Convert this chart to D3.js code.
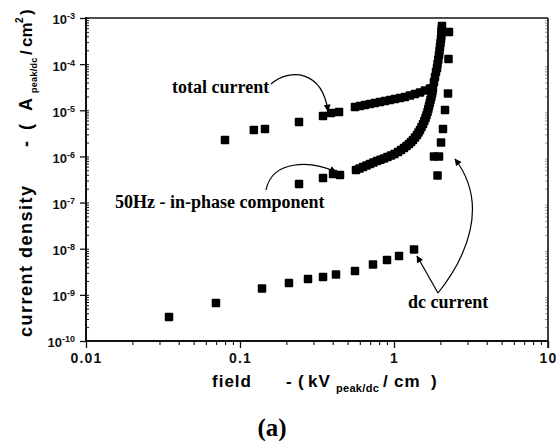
<!DOCTYPE html>
<html>
<head>
<meta charset="utf-8">
<script src="https://cdn.jsdelivr.net/npm/d3@7"></script>
<style>
  body { margin: 0; background: #fff; }
  svg { display: block; }
</style>
</head>
<body>
<svg id="chart" width="556" height="441"></svg>
<script>
// Field in kV(peak/dc)/cm, current density in A(peak/dc)/cm²

// total current
const totalField = [0.0799, 0.123, 0.1453, 0.2416, 0.346, 0.390, 0.4395,
  0.558, 0.6015, 0.648, 0.6985, 0.7527, 0.811, 0.874, 0.942, 1.015, 1.094,
  1.179, 1.27, 1.369, 1.475, 1.59, 1.713];
const totalDensity = [2.27e-6, 3.74e-6, 3.93e-6, 5.57e-6, 7.52e-6, 8.73e-6, 9.18e-6,
  1.18e-5, 1.24e-5, 1.30e-5, 1.37e-5, 1.44e-5, 1.51e-5, 1.59e-5, 1.67e-5, 1.75e-5, 1.85e-5,
  1.94e-5, 2.09e-5, 2.25e-5, 2.43e-5, 2.69e-5, 2.96e-5];

// 50 Hz in-phase component
const inPhaseField = [0.2416, 0.346, 0.402, 0.446,
  0.5665, 0.597, 0.629, 0.663, 0.6985, 0.736, 0.7755, 0.817, 0.861, 0.907,
  0.956, 1.007, 1.062, 1.11, 1.161, 1.206, 1.251, 1.29, 1.328, 1.369,
  1.410, 1.443, 1.475, 1.509, 1.543, 1.573, 1.602, 1.626, 1.650, 1.670,
  1.688, 1.708, 1.726, 1.747, 1.765, 1.778, 1.791, 1.818, 1.846, 1.874,
  1.902, 1.917, 1.940, 1.960, 1.975, 1.989, 2.004, 2.020, 2.028, 2.034,
  2.044, 2.049];
const inPhaseDensity = [2.52e-7, 3.40e-7, 4.16e-7, 3.95e-7,
  5.08e-7, 5.47e-7, 5.90e-7, 6.36e-7, 6.86e-7, 7.38e-7, 7.96e-7, 8.49e-7, 9.02e-7, 9.71e-7,
  1.047e-6, 1.13e-6, 1.247e-6, 1.38e-6, 1.52e-6, 1.68e-6, 1.86e-6, 2.05e-6, 2.27e-6, 2.57e-6,
  2.91e-6, 3.30e-6, 3.74e-6, 4.35e-6, 5.05e-6, 5.86e-6, 6.81e-6, 7.91e-6, 9.18e-6, 1.067e-5,
  1.24e-5, 1.44e-5, 1.67e-5, 1.94e-5, 2.25e-5, 2.62e-5, 3.04e-5, 4.10e-5, 5.26e-5, 6.76e-5,
  8.25e-5, 1.007e-4, 1.26e-4, 1.58e-4, 1.93e-4, 2.35e-4, 2.87e-4, 3.51e-4, 4.18e-4, 4.98e-4,
  5.78e-4, 6.71e-4];

// dc current
const dcField = [0.0346, 0.0698, 0.139, 0.208, 0.2764, 0.346, 0.42, 0.558,
  0.7305, 0.9006, 1.078, 1.349,
  1.818, 1.917, 1.96, 2.02, 2.08, 2.144, 2.242, 2.259, 2.276];
const dcDensity = [3.31e-10, 6.67e-10, 1.37e-9, 1.81e-9, 2.21e-9, 2.44e-9, 2.76e-9, 3.29e-9,
  4.55e-9, 5.69e-9, 6.95e-9, 9.62e-9,
  9.96e-7, 3.86e-7, 9.96e-7, 2.00e-6, 3.93e-6, 1.01e-5, 2.31e-5, 1.29e-4, 4.98e-4];

// axis ticks
const xMajorTicks = [0.01, 0.1, 1, 10];
const xTickLabels = ["0.01", "0.1", "1", "10"];
const yMajorTicks = [1e-3, 1e-4, 1e-5, 1e-6, 1e-7, 1e-8, 1e-9, 1e-10];
const yTickExponents = ["-3", "-4", "-5", "-6", "-7", "-8", "-9", "-10"];

const SANS = "'Liberation Sans', Arial, Helvetica, sans-serif";
const SERIF = "'Liberation Serif', 'Times New Roman', Times, serif";

const frame = { left: 86, right: 548, top: 18, bottom: 341 };
const svg = d3.select("#chart");

const x = d3.scaleLog().domain([0.01, 10]).range([frame.left, frame.right]);
const y = d3.scaleLog().domain([1e-10, 1e-3]).range([frame.bottom, frame.top]);

// minor ticks: 2..9 within each decade
function minorTicks(lo, hi) {
  const out = [];
  for (let e = Math.round(Math.log10(lo)); e < Math.round(Math.log10(hi)); e++) {
    for (let k = 2; k <= 9; k++) out.push(k * Math.pow(10, e));
  }
  return out;
}
const xMinor = minorTicks(0.01, 10);
const yMinor = minorTicks(1e-10, 1e-3);

// ---------- axes ----------
const ink = "#111";

// bottom: major ticks with labels
const xAxisMajor = svg.append("g")
  .attr("transform", `translate(0,${frame.bottom})`)
  .call(d3.axisBottom(x).tickValues(xMajorTicks).tickSize(7).tickPadding(5)
    .tickFormat((d, i) => xTickLabels[i]));
xAxisMajor.select(".domain").remove();
xAxisMajor.selectAll("line").attr("stroke", ink).attr("stroke-width", 1.3);
xAxisMajor.selectAll("text")
  .attr("fill", ink)
  .style("font-family", SANS).style("font-weight", "bold")
  .style("font-size", "14px").style("letter-spacing", "1.2px");

// bottom: minor ticks
const xAxisMinor = svg.append("g")
  .attr("transform", `translate(0,${frame.bottom})`)
  .call(d3.axisBottom(x).tickValues(xMinor).tickSize(4).tickFormat(""));
xAxisMinor.select(".domain").remove();
xAxisMinor.selectAll("line").attr("stroke", ink).attr("stroke-width", 1.1);

// left: major ticks (outward) with 10^n labels
const yAxisMajor = svg.append("g")
  .attr("transform", `translate(${frame.left},0)`)
  .call(d3.axisLeft(y).tickValues(yMajorTicks).tickSize(6).tickPadding(5)
    .tickFormat(() => ""));
yAxisMajor.select(".domain").remove();
yAxisMajor.selectAll("line").attr("stroke", ink).attr("stroke-width", 1.3);
yAxisMajor.selectAll(".tick text").each(function (d, i) {
  const t = d3.select(this)
    .attr("fill", ink)
    .attr("dy", "0.45em")
    .style("font-family", SANS).style("font-weight", "bold")
    .style("font-size", "13px");
  t.text("10");
  t.append("tspan")
    .attr("dy", "-0.55em")
    .style("font-size", "9px")
    .text(yTickExponents[i]);
});

// left: minor ticks (inward)
const yAxisMinor = svg.append("g")
  .attr("transform", `translate(${frame.left},0)`)
  .call(d3.axisRight(y).tickValues(yMinor.concat(yMajorTicks)).tickSize(3).tickFormat(""));
yAxisMinor.select(".domain").remove();
yAxisMinor.selectAll("line").attr("stroke", ink).attr("stroke-width", 1);

// right: faint inward minor ticks
const yAxisRight = svg.append("g")
  .attr("transform", `translate(${frame.right},0)`)
  .call(d3.axisLeft(y).tickValues(yMinor).tickSize(3).tickFormat(""));
yAxisRight.select(".domain").remove();
yAxisRight.selectAll("line").attr("stroke", "#888").attr("stroke-width", 0.8);

// frame lines
const frameG = svg.append("g").attr("stroke", ink).attr("fill", "none");
frameG.append("line").attr("x1", frame.left).attr("x2", frame.right)
  .attr("y1", frame.top).attr("y2", frame.top).attr("stroke-width", 1.5);
frameG.append("line").attr("x1", frame.right).attr("x2", frame.right)
  .attr("y1", frame.top).attr("y2", frame.bottom + 7).attr("stroke-width", 1.6);
frameG.append("line").attr("x1", frame.left).attr("x2", frame.right)
  .attr("y1", frame.bottom).attr("y2", frame.bottom).attr("stroke-width", 2);
frameG.append("line").attr("x1", frame.left).attr("x2", frame.left)
  .attr("y1", frame.top - 1).attr("y2", frame.bottom + 1).attr("stroke-width", 2);

// ---------- data markers ----------
const MS = 8.5;
function drawSeries(cls, fields, densities) {
  const pts = fields.map((f, i) => ({ f, j: densities[i] }));
  svg.append("g").attr("class", cls)
    .selectAll("rect").data(pts).join("rect")
    .attr("x", d => x(d.f) - MS / 2)
    .attr("y", d => y(d.j) - MS / 2)
    .attr("width", MS).attr("height", MS)
    .attr("rx", 1)
    .attr("fill", "#000");
}
drawSeries("total", totalField, totalDensity);
drawSeries("in-phase", inPhaseField, inPhaseDensity);
drawSeries("dc", dcField, dcDensity);

// ---------- annotations ----------
const defs = svg.append("defs");
defs.append("marker")
  .attr("id", "head")
  .attr("viewBox", "0 0 10 10")
  .attr("refX", 9).attr("refY", 5)
  .attr("markerUnits", "userSpaceOnUse")
  .attr("markerWidth", 8).attr("markerHeight", 7)
  .attr("orient", "auto")
  .append("path").attr("d", "M0,0 L10,5 L0,10 Z").attr("fill", "#000");

const arrows = [
  "M271,84 C290,68 322,70 328,111",     // total current
  "M266,190 C272,160 310,160 336,172",  // in-phase component
  "M438,293 L417,256",                  // dc current, low-field branch
  "M438,293 C466,258 490,205 455,159"   // dc current, breakdown branch
];
svg.append("g").selectAll("path").data(arrows).join("path")
  .attr("d", d => d)
  .attr("fill", "none").attr("stroke", "#000").attr("stroke-width", 1.2)
  .attr("marker-end", "url(#head)");

const notes = [
  { text: "total current", x: 172, y: 93 },
  { text: "50Hz - in-phase component", x: 115, y: 208 },
  { text: "dc current", x: 408, y: 308 }
];
svg.append("g").selectAll("text").data(notes).join("text")
  .attr("x", d => d.x).attr("y", d => d.y)
  .attr("fill", "#000")
  .style("font-family", SERIF).style("font-weight", "bold").style("font-size", "18px")
  .text(d => d.text);

// ---------- axis titles ----------
function titlePieces(sel, pieces, baseSize) {
  pieces.forEach(p => {
    sel.append("tspan")
      .attr("x", p.at).attr("y", p.shift || 0)
      .style("font-size", (p.size || baseSize) + "px")
      .style("letter-spacing", (p.ls == null ? 1 : p.ls) + "px")
      .text(p.t);
  });
}

const xTitle = svg.append("text")
  .attr("transform", "translate(0,387)")
  .attr("fill", "#000")
  .style("font-family", SANS).style("font-weight", "bold");
titlePieces(xTitle, [
  { t: "field", at: 212 },
  { t: "-", at: 286 },
  { t: "(", at: 298 },
  { t: "kV", at: 308 },
  { t: "peak/dc", at: 336, size: 11, shift: 5, ls: 0.3 },
  { t: "/", at: 383 },
  { t: "cm", at: 394 },
  { t: ")", at: 431 }
], 17);

const yTitle = svg.append("text")
  .attr("transform", "translate(32,337) rotate(-90)")
  .attr("fill", "#000")
  .style("font-family", SANS).style("font-weight", "bold");
titlePieces(yTitle, [
  { t: "current density", at: 0, ls: 1.5 },
  { t: "-", at: 190 },
  { t: "(", at: 207 },
  { t: "A", at: 226, ls: 0 },
  { t: "peak/dc", at: 244, size: 9, shift: 5, ls: 0.3 },
  { t: "/", at: 282, size: 17, ls: 0 },
  { t: "cm", at: 290, size: 17, ls: 0 },
  { t: "2", at: 314, size: 10, shift: -9, ls: 0 },
  { t: ")", at: 322, size: 17, ls: 0 }
], 18);

// panel tag
svg.append("text")
  .attr("x", 272).attr("y", 436)
  .attr("text-anchor", "middle")
  .attr("fill", "#000")
  .style("font-family", SERIF).style("font-weight", "bold").style("font-size", "25px")
  .text("(a)");
</script>
</body>
</html>
